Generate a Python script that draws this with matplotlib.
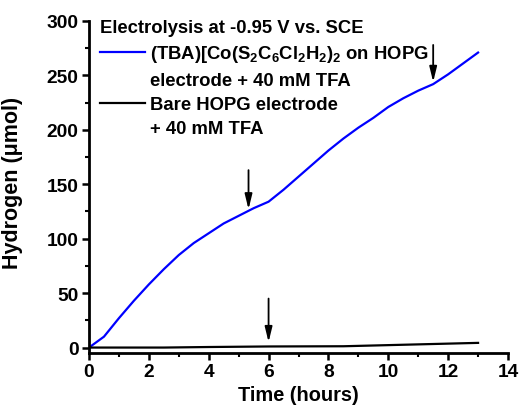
import matplotlib
matplotlib.use("Agg")
import matplotlib.pyplot as plt
from matplotlib.lines import Line2D
from matplotlib.ticker import MultipleLocator

plt.rcParams['font.family'] = ['Liberation Sans', 'DejaVu Sans']
plt.rcParams['font.weight'] = 'bold'
plt.rcParams['mathtext.fontset'] = 'custom'
plt.rcParams['mathtext.rm'] = 'Liberation Sans:bold'
plt.rcParams['mathtext.bf'] = 'Liberation Sans:bold'
plt.rcParams['mathtext.default'] = 'bf'

# data
time_co = [0, 0.5, 1, 1.5, 2, 2.5, 3, 3.5, 4, 4.5, 5, 5.5, 6, 6.5, 7, 7.5, 8,
           8.5, 9, 9.5, 10, 10.5, 11, 11.5, 12, 12.5, 13]
h2_co = [0, 10, 27, 43, 58, 72, 85, 96, 105, 114, 121, 128, 134, 145, 157, 169,
         181, 192, 202, 211, 221, 229, 236, 242, 251, 261, 271]
time_bare = [0, 1.5, 2.5, 4, 6, 8.5, 13]
h2_bare = [0, 0, 0, 0.5, 1, 1.2, 4.3]
arrow_x = [5.33, 11.5, 6.0]
arrow_top = [163, 278, 45]
arrow_tip = [127, 244, 5]

label_co = ["(TBA)[Co(S$_2$C$_6$Cl$_2$H$_2$)$_2$ on HOPG", "electrode + 40 mM TFA"]
label_bare = ["Bare HOPG electrode", "+ 40 mM TFA"]
legend_title = "Electrolysis at -0.95 V vs. SCE"

fig = plt.figure(figsize=(5.3, 4.1), dpi=100)
ax = fig.add_axes([89/530, 1 - 354/410, (508-89)/530, (354-22)/410])

line_co, = ax.plot(time_co, h2_co, color='#0000ff', lw=1.6)
line_bare, = ax.plot(time_bare, h2_bare, color='black', lw=1.6)

for x, t, b in zip(arrow_x, arrow_top, arrow_tip):
    ax.annotate('', xy=(x, b), xytext=(x, t),
                arrowprops=dict(arrowstyle='-|>,head_length=0.9,head_width=0.22',
                                color='black', lw=1.3, shrinkA=0, shrinkB=0))

ax.set_xlim(0, 14)
ax.set_ylim(-5, 300)
ax.xaxis.set_major_locator(MultipleLocator(2))
ax.xaxis.set_minor_locator(MultipleLocator(1))
ax.yaxis.set_major_locator(MultipleLocator(50))
ax.yaxis.set_minor_locator(MultipleLocator(25))
for s in ['top', 'right']:
    ax.spines[s].set_visible(False)
for s in ['left', 'bottom']:
    ax.spines[s].set_linewidth(2)
ax.tick_params(which='major', direction='out', length=5, width=1.8, labelsize=13.8, pad=2.5)
ax.tick_params(which='minor', direction='out', length=3, width=1.5)
for lab in ax.get_xticklabels() + ax.get_yticklabels():
    lab.set_fontweight('bold')

ax.set_xlabel('Time (hours)', fontsize=14.4, fontweight='bold')
ax.set_ylabel('Hydrogen (\u03bcmol)', fontsize=15.5, fontweight='bold')
ax.xaxis.set_label_coords(0.5, -0.095)
ax.yaxis.set_label_coords(-0.158, 0.515)

blank = Line2D([], [], color='none')
handles = [line_co, blank, line_bare, blank]
labels = [label_co[0], label_co[1], label_bare[0], label_bare[1]]
leg = ax.legend(handles, labels, title=legend_title, loc='upper left',
                bbox_to_anchor=(0.0, 1.04),
                frameon=False, fontsize=13.3,
                title_fontproperties={'weight': 'bold', 'size': 13.3},
                handlelength=2.45, handletextpad=0.27, labelspacing=0.4,
                borderaxespad=0.2, alignment='left')

fig.savefig('out.png', dpi=100)
